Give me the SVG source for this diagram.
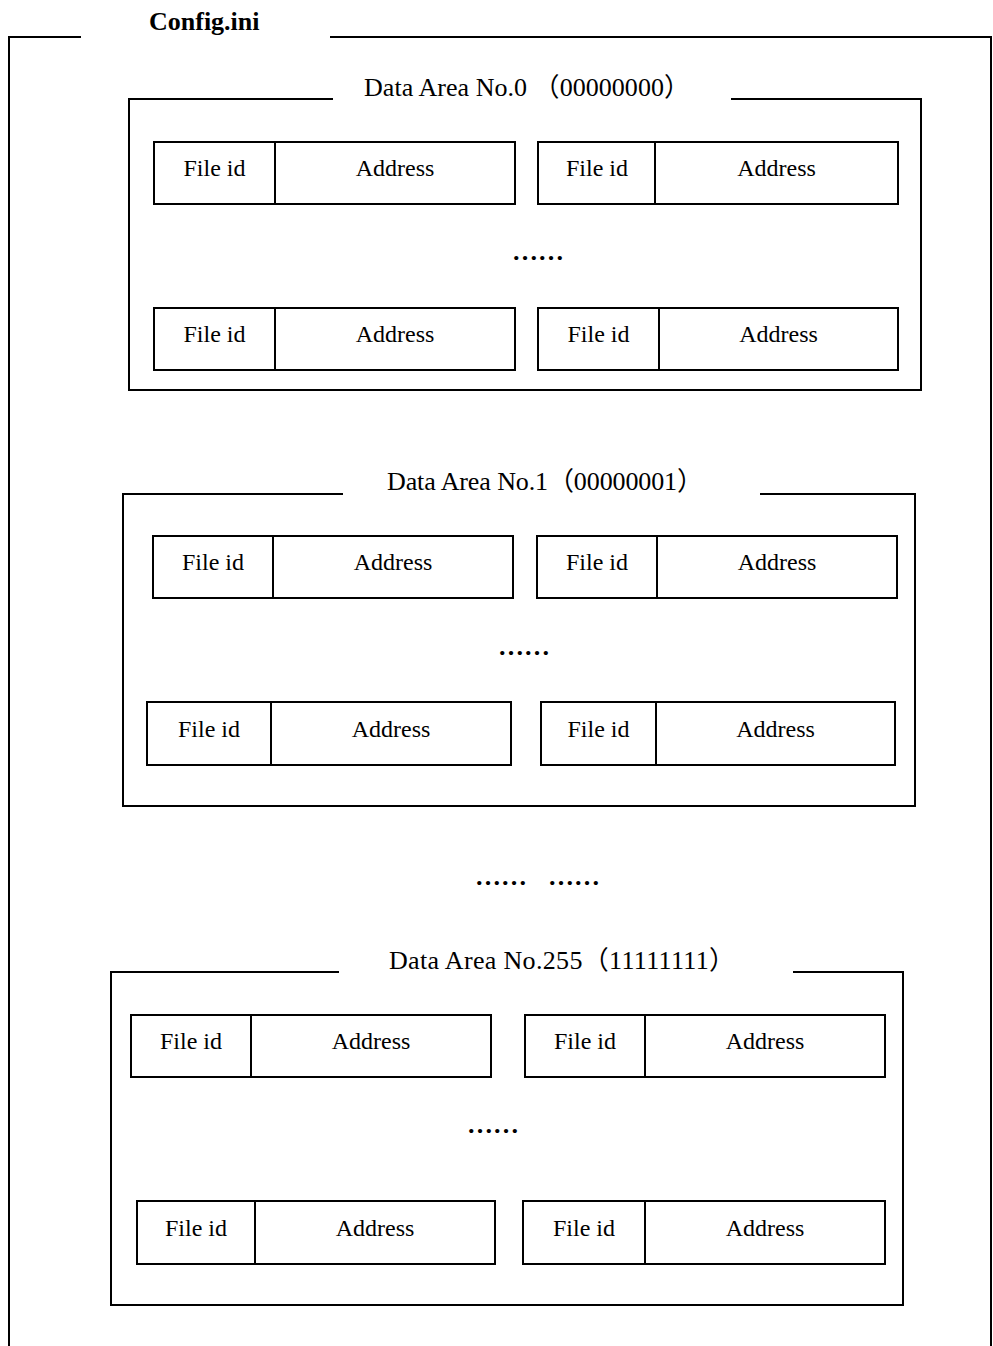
<svg xmlns="http://www.w3.org/2000/svg" width="993" height="1346" viewBox="0 0 993 1346">
<style>
.frame{fill:none;stroke:#000;stroke-width:2}
.cell{fill:#fff;stroke:#000;stroke-width:2}
.div{stroke:#000;stroke-width:2}
.t{font-family:"Liberation Serif","Times New Roman","Noto Sans CJK SC",serif;font-size:24px;fill:#000;text-anchor:middle}
.title{font-family:"Liberation Serif","Times New Roman","Noto Sans CJK SC",serif;font-size:26px;fill:#000}
.head{font-family:"Liberation Serif","Times New Roman",serif;font-size:26px;font-weight:bold;fill:#000}
.dots{font-family:"Liberation Serif","Times New Roman",serif;font-size:26px;font-weight:bold;fill:#000}
</style>
<rect width="993" height="1346" fill="#fff"/>
<g id="config">
<path class="frame" d="M81,37 H9 V1346 M330,37 H991 V1346"/>
<text class="head" x="149" y="30">Config.ini</text>
</g>

<g id="area0">
<path class="frame" d="M333,99 H129 V390 H921 V99 H731"/>
<text class="title" x="364" y="96" textLength="326">Data Area No.0 （00000000）</text>
<g id="a0r1l"><rect class="cell" x="154" y="142" width="361" height="62"/><line class="div" x1="275" y1="142" x2="275" y2="204"/><text class="t" x="214.5" y="176">File id</text><text class="t" x="395" y="176">Address</text></g>
<g id="a0r1r"><rect class="cell" x="538" y="142" width="360" height="62"/><line class="div" x1="655" y1="142" x2="655" y2="204"/><text class="t" x="597" y="176">File id</text><text class="t" x="776.5" y="176">Address</text></g>
<text class="dots" x="512" y="260">……</text>
<g id="a0r2l"><rect class="cell" x="154" y="308" width="361" height="62"/><line class="div" x1="275" y1="308" x2="275" y2="370"/><text class="t" x="214.5" y="342">File id</text><text class="t" x="395" y="342">Address</text></g>
<g id="a0r2r"><rect class="cell" x="538" y="308" width="360" height="62"/><line class="div" x1="659" y1="308" x2="659" y2="370"/><text class="t" x="598.5" y="342">File id</text><text class="t" x="778.5" y="342">Address</text></g>
</g>

<g id="area1">
<path class="frame" d="M343,494 H123 V806 H915 V494 H760"/>
<text class="title" x="387" y="490" textLength="316">Data Area No.1（00000001）</text>
<g id="a1r1l"><rect class="cell" x="153" y="536" width="360" height="62"/><line class="div" x1="273" y1="536" x2="273" y2="598"/><text class="t" x="213" y="570">File id</text><text class="t" x="393" y="570">Address</text></g>
<g id="a1r1r"><rect class="cell" x="537" y="536" width="360" height="62"/><line class="div" x1="657" y1="536" x2="657" y2="598"/><text class="t" x="597" y="570">File id</text><text class="t" x="777" y="570">Address</text></g>
<text class="dots" x="498" y="655">……</text>
<g id="a1r2l"><rect class="cell" x="147" y="702" width="364" height="63"/><line class="div" x1="271" y1="702" x2="271" y2="765"/><text class="t" x="209" y="737">File id</text><text class="t" x="391" y="737">Address</text></g>
<g id="a1r2r"><rect class="cell" x="541" y="702" width="354" height="63"/><line class="div" x1="656" y1="702" x2="656" y2="765"/><text class="t" x="598.5" y="737">File id</text><text class="t" x="775.5" y="737">Address</text></g>
</g>

<text class="dots" x="475" y="885">……<tspan x="548">……</tspan></text>

<g id="area255">
<path class="frame" d="M339,972 H111 V1305 H903 V972 H793"/>
<text class="title" x="389" y="969" textLength="346">Data Area No.255（11111111）</text>
<g id="a2r1l"><rect class="cell" x="131" y="1015" width="360" height="62"/><line class="div" x1="251" y1="1015" x2="251" y2="1077"/><text class="t" x="191" y="1049">File id</text><text class="t" x="371" y="1049">Address</text></g>
<g id="a2r1r"><rect class="cell" x="525" y="1015" width="360" height="62"/><line class="div" x1="645" y1="1015" x2="645" y2="1077"/><text class="t" x="585" y="1049">File id</text><text class="t" x="765" y="1049">Address</text></g>
<text class="dots" x="467" y="1133">……</text>
<g id="a2r2l"><rect class="cell" x="137" y="1201" width="358" height="63"/><line class="div" x1="255" y1="1201" x2="255" y2="1264"/><text class="t" x="196" y="1236">File id</text><text class="t" x="375" y="1236">Address</text></g>
<g id="a2r2r"><rect class="cell" x="523" y="1201" width="362" height="63"/><line class="div" x1="645" y1="1201" x2="645" y2="1264"/><text class="t" x="584" y="1236">File id</text><text class="t" x="765" y="1236">Address</text></g>
</g>
</svg>
